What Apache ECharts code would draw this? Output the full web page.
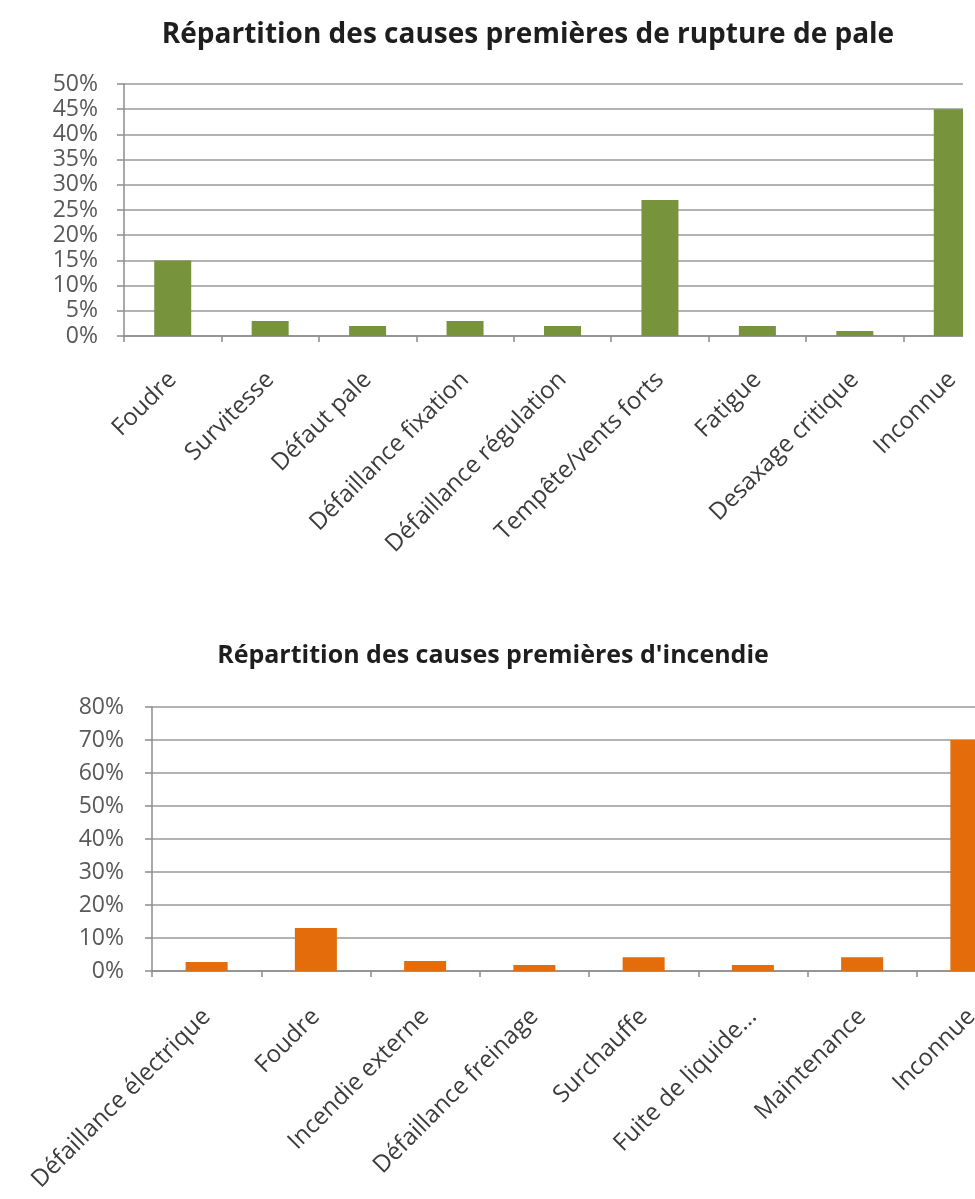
<!DOCTYPE html>
<html>
<head>
<meta charset="utf-8">
<script src="https://cdn.jsdelivr.net/npm/echarts@6/dist/echarts.min.js"></script>
<style>
html,body{margin:0;padding:0;background:#fff;}
#c1{position:absolute;left:0;top:0;width:963px;height:600px;}
#c2{position:absolute;left:0;top:600px;width:975px;height:599px;}
</style>
</head>
<body>
<div id="c1"></div>
<div id="c2"></div>
<script>
const title1 = "Répartition des causes premières de rupture de pale";
const categories1 = ["Foudre","Survitesse","Défaut pale","Défaillance fixation","Défaillance régulation","Tempête/vents forts","Fatigue","Desaxage critique","Inconnue"];
const values1 = [15, 3, 2, 3, 2, 27, 2, 1, 45];

const title2 = "Répartition des causes premières d'incendie";
const categories2 = ["Défaillance électrique","Foudre","Incendie externe","Défaillance freinage","Surchauffe","Fuite de liquide...","Maintenance","Inconnue"];
const values2 = [2.7, 13, 3, 1.8, 4.2, 1.8, 4.2, 70];

const FONT = "Open Sans";

function makeOption(t, titleSize, titleX, titleTop, cats, vals, color, grid, yMax, yInt, barW, yMargin, xMargin) {
  return {
    animation: false,
    title: {
      text: t, left: titleX, top: titleTop, textAlign: 'center',
      textStyle: {fontFamily: FONT, fontWeight: 'bold', fontSize: titleSize, color: '#1e1e1e'}
    },
    grid: Object.assign({containLabel: false, outerBoundsMode: 'none'}, grid),
    xAxis: {
      type: 'category', data: cats,
      axisLine: {show: true, lineStyle: {color: '#8c8c8c', width: 1.5}},
      axisTick: {show: true, alignWithLabel: false, length: 6, lineStyle: {color: '#8c8c8c', width: 1.5}},
      axisLabel: {interval: 0, rotate: 45, margin: xMargin, fontFamily: FONT, fontSize: 24, color: '#3c3c3c'},
      splitLine: {show: false}
    },
    yAxis: {
      type: 'value', min: 0, max: yMax, interval: yInt,
      axisLine: {show: true, lineStyle: {color: '#8c8c8c', width: 1.5}},
      axisTick: {show: true, length: 7, lineStyle: {color: '#8c8c8c', width: 1.5}},
      axisLabel: {margin: yMargin, fontFamily: FONT, fontSize: 23, color: '#595959', formatter: v => v + '%'},
      splitLine: {show: true, lineStyle: {color: '#9a9a9a', width: 1.5}}
    },
    series: [{
      type: 'bar', data: vals, barWidth: barW,
      itemStyle: {color: color}
    }]
  };
}

const ch1 = echarts.init(document.getElementById('c1'));
ch1.setOption(makeOption(title1, 28, 523, 16, categories1, values1, '#77933c',
  {left: 124, right: -38, top: 84, height: 252}, 50, 5, 37, 26, 40));

const ch2 = echarts.init(document.getElementById('c2'));
ch2.setOption(makeOption(title2, 25, 488, 38, categories2, values2, '#e46c0a',
  {left: 152, right: -51, top: 107, height: 264}, 80, 10, 42, 28, 42));
</script>
</body>
</html>
